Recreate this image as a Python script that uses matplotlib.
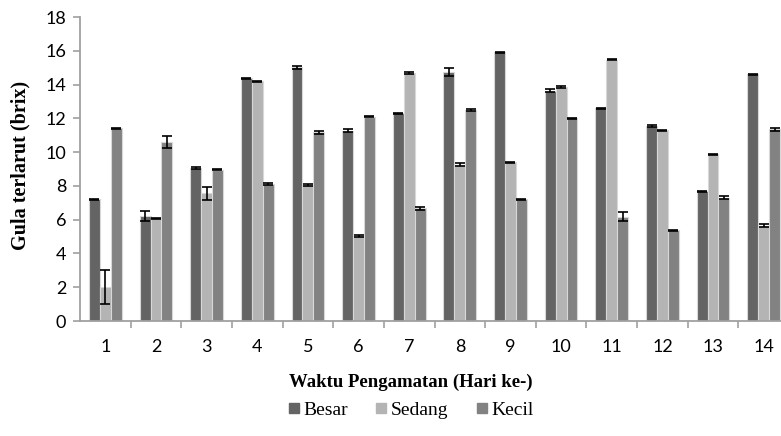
import matplotlib
matplotlib.use("Agg")
import matplotlib.pyplot as plt
import numpy as np
from matplotlib.lines import Line2D

days = list(range(1, 15))
besar = [7.2, 6.2, 9.07, 14.38, 15.03, 11.26, 12.29, 14.75, 15.9, 13.63, 12.6, 11.54, 7.69, 14.6]
besar_err = [0.03, 0.3, 0.05, 0.03, 0.08, 0.08, 0.03, 0.25, 0.03, 0.08, 0.03, 0.08, 0.03, 0.05]
sedang = [2.0, 6.08, 7.56, 14.2, 8.05, 5.03, 14.69, 9.25, 9.39, 13.86, 15.48, 11.3, 9.88, 5.65]
sedang_err = [1.0, 0.03, 0.4, 0.03, 0.08, 0.08, 0.05, 0.08, 0.03, 0.08, 0.03, 0.03, 0.03, 0.1]
kecil = [11.42, 10.6, 8.97, 8.1, 11.18, 12.09, 6.67, 12.49, 7.2, 12.01, 6.18, 5.38, 7.3, 11.34]
kecil_err = [0.03, 0.37, 0.03, 0.05, 0.08, 0.03, 0.08, 0.08, 0.03, 0.03, 0.25, 0.03, 0.1, 0.08]

series = [("Besar", besar, besar_err, "#646464"),
          ("Sedang", sedang, sedang_err, "#b4b4b4"),
          ("Kecil", kecil, kecil_err, "#828282")]

plt.rcParams['font.family'] = 'serif'
plt.rcParams['font.serif'] = ['Liberation Serif', 'DejaVu Serif']

fig = plt.figure(figsize=(7.81, 4.36), dpi=100)
ax = fig.add_axes([80/781, (436-321)/436, (789-80)/781, 304/436])

x = np.array(days, dtype=float)
w = 0.215
for k, (name, vals, errs, col) in enumerate(series):
    ax.bar(x + (k - 1) * w, vals, width=w, color=col, edgecolor="#d8d8d8",
           linewidth=0.8, label=name, yerr=errs,
           error_kw=dict(ecolor="black", elinewidth=1.2, capsize=3.5, capthick=1.2))

ax.set_xlim(0.5, 14.5)
ax.set_ylim(0, 18)
ax.set_yticks(range(0, 19, 2))
ax.set_yticklabels([str(v) for v in range(0, 19, 2)], fontsize=13, fontfamily='Lato')
ax.set_xticks(x)
ax.set_xticklabels([str(d) for d in days], fontsize=13, fontfamily='Lato')
ax.set_xticks(np.arange(1.5, 14.5, 1.0), minor=True)
ax.tick_params(axis='x', which='major', length=0, pad=13)
ax.tick_params(axis='x', which='minor', length=5, width=1.2, color="#a0a0a0", direction='out')
ax.tick_params(axis='y', length=5, width=1.2, color="#a0a0a0", direction='out', pad=5)
for s in ['top', 'right']:
    ax.spines[s].set_visible(False)
for s in ['left', 'bottom']:
    ax.spines[s].set_color("#a0a0a0")
    ax.spines[s].set_linewidth(1.3)

fig.text(20/781, 1 - 165/436, "Gula terlarut (brix)", fontsize=14.5, fontweight='bold',
         rotation=90, ha='center', va='center', fontfamily='Liberation Serif')
fig.text(411/781, 1 - 382/436, "Waktu Pengamatan (Hari ke-)", fontsize=13.5, fontweight='bold',
         ha='center', va='center', fontfamily='Liberation Serif')

hs = [Line2D([0], [0], marker='s', linestyle='none', markersize=7, markerfacecolor=c,
             markeredgecolor=c) for _, _, _, c in series]
leg = fig.legend(hs, [s[0] for s in series], loc='center', bbox_to_anchor=(409/781, 1 - 410/436),
                 ncol=3, frameon=False, fontsize=14,
                 handletextpad=0.0, columnspacing=1.2, handlelength=1.0)
for t in leg.get_texts():
    t.set_fontfamily('Liberation Serif')

fig.savefig("out.png", dpi=100)
